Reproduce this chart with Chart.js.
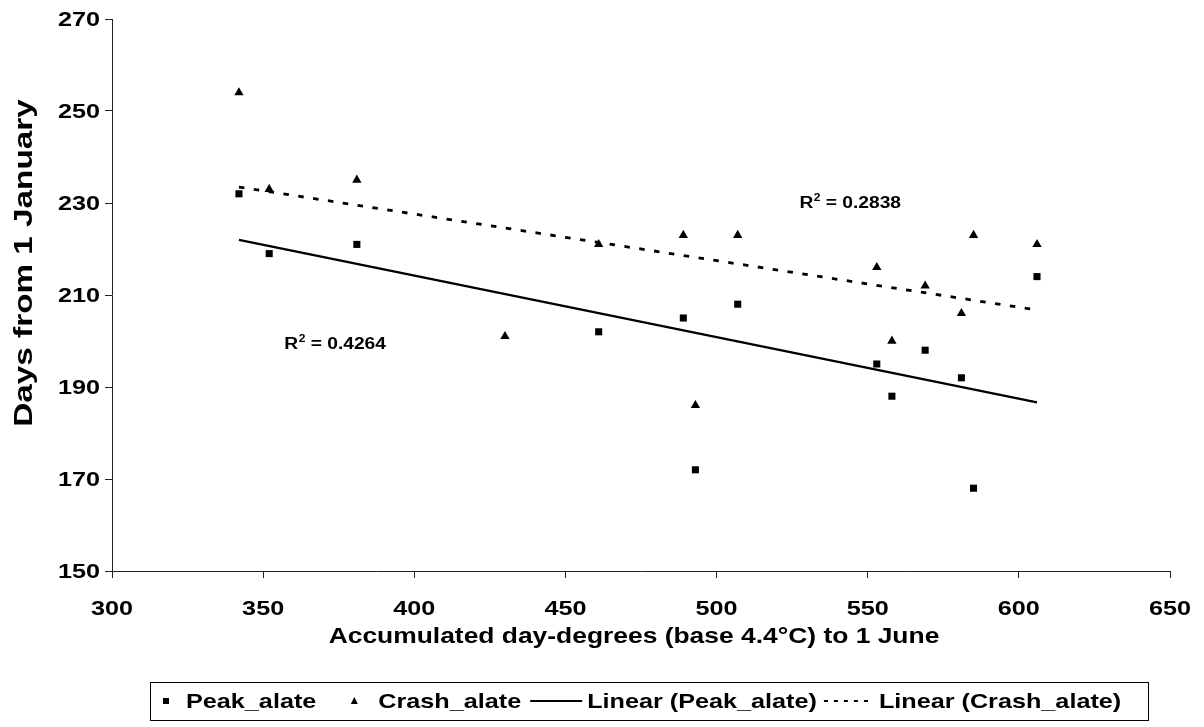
<!DOCTYPE html>
<html>
<head>
<meta charset="utf-8">
<script src="https://cdn.jsdelivr.net/npm/chart.js@4.4.0/dist/chart.umd.min.js"></script>
<style>
  html, body { margin: 0; padding: 0; background: #ffffff; }
  #wrap { width: 1204px; height: 727px; }
</style>
</head>
<body>
<div id="wrap"><canvas id="chart" width="1204" height="727"></canvas></div>
<script>
// Accumulated day-degrees (base 4.4°C) to 1 June, one value per year
const degreeDays = [342, 352, 381, 430, 461, 489, 493, 507, 553, 558, 569, 581, 585, 606];
// Day of year of the alate peak (no record for the 430 year)
const peakAlate = [232, 219, 221, null, 202, 205, 172, 208, 195, 188, 198, 192, 168, 214];
// Day of year of the alate crash
const crashAlate = [254, 233, 235, 201, 221, 223, 186, 223, 216, 200, 212, 206, 223, 221];

const xTickValues = [300, 350, 400, 450, 500, 550, 600, 650];
const yTickValues = [150, 170, 190, 210, 230, 250, 270];

const seriesNames = ['Peak_alate', 'Crash_alate', 'Linear (Peak_alate)', 'Linear (Crash_alate)'];
const axisTitles = ['Accumulated day-degrees (base 4.4°C) to 1 June', 'Days from 1 January'];
const rSquaredText = ['0.4264', '0.2838'];

const FONT = '"Liberation Sans", Arial, Helvetica, sans-serif';
// Text is set slightly wide, as in the exported chart
const WIDE = 1.2;

function pairs(xs, ys) {
  const out = [];
  xs.forEach((x, i) => { if (ys[i] !== null && ys[i] !== undefined) out.push({ x: x, y: ys[i] }); });
  return out;
}

// Ordinary least-squares fit, returned as the two end points of the fitted line
function trendLine(points) {
  const n = points.length;
  const mx = points.reduce((s, p) => s + p.x, 0) / n;
  const my = points.reduce((s, p) => s + p.y, 0) / n;
  let sxy = 0, sxx = 0;
  points.forEach(p => { sxy += (p.x - mx) * (p.y - my); sxx += (p.x - mx) * (p.x - mx); });
  const slope = sxy / sxx;
  const xs = points.map(p => p.x);
  const x0 = Math.min(...xs), x1 = Math.max(...xs);
  return [{ x: x0, y: my + slope * (x0 - mx) }, { x: x1, y: my + slope * (x1 - mx) }];
}

const peakPts = pairs(degreeDays, peakAlate);
const crashPts = pairs(degreeDays, crashAlate);

// Draw a string widened horizontally; returns its drawn width
function wideText(ctx, text, x, y, align, font, sx) {
  ctx.save();
  ctx.font = font;
  const w = ctx.measureText(text).width * sx;
  let left = x;
  if (align === 'center') left = x - w / 2;
  else if (align === 'right') left = x - w;
  ctx.translate(left, y);
  ctx.scale(sx, 1);
  ctx.textAlign = 'left';
  ctx.fillText(text, 0, 0);
  ctx.restore();
  return w;
}

// Tick labels and axis titles
const axisTextPlugin = {
  id: 'axisText',
  afterDraw(chart) {
    const { ctx, chartArea, scales: { x, y } } = chart;
    ctx.save();
    ctx.fillStyle = '#000';
    ctx.textBaseline = 'middle';
    const tickFont = 'bold 21px ' + FONT;
    xTickValues.forEach(v => {
      wideText(ctx, String(v), x.getPixelForValue(v), chartArea.bottom + 38, 'center', tickFont, WIDE);
    });
    yTickValues.forEach(v => {
      wideText(ctx, String(v), chartArea.left - 12, y.getPixelForValue(v) + 1, 'right', tickFont, WIDE);
    });
    // x-axis title
    wideText(ctx, axisTitles[0], 634, 637, 'center', 'bold 22px ' + FONT, WIDE);
    // y-axis title, rotated; widened across its thickness
    ctx.save();
    ctx.font = 'bold 26px ' + FONT;
    ctx.translate(25, 263);
    ctx.rotate(-Math.PI / 2);
    ctx.scale(1.28, 1.0);
    ctx.textAlign = 'center';
    ctx.fillText(axisTitles[1], 0, 0);
    ctx.restore();
    ctx.restore();
  }
};

// R² annotations, anchored in data coordinates
const rSquaredPlugin = {
  id: 'rSquared',
  afterDatasetsDraw(chart) {
    const { ctx, scales: { x, y } } = chart;
    const anchors = [
      { text: rSquaredText[0], x: 357, y: 198.3 },
      { text: rSquaredText[1], x: 527.4, y: 228.9 }
    ];
    ctx.save();
    ctx.fillStyle = '#000';
    ctx.textBaseline = 'alphabetic';
    anchors.forEach(a => {
      let px = x.getPixelForValue(a.x);
      const py = y.getPixelForValue(a.y);
      px += wideText(ctx, 'R', px, py, 'left', 'bold 16px ' + FONT, WIDE);
      px += wideText(ctx, '2', px + 0.5, py - 7, 'left', 'bold 10px ' + FONT, WIDE);
      wideText(ctx, ' = ' + a.text, px + 0.5, py, 'left', 'bold 16px ' + FONT, WIDE);
    });
    ctx.restore();
  }
};

// Boxed legend row under the x-axis title
const boxedLegendPlugin = {
  id: 'boxedLegend',
  afterDraw(chart) {
    const { ctx } = chart;
    const top = 682, height = 38, left = 150, right = 1148;
    const cy = top + height / 2;
    const font = 'bold 21px ' + FONT;
    ctx.save();
    ctx.strokeStyle = '#000';
    ctx.lineWidth = 1;
    ctx.strokeRect(left + 0.5, top + 0.5, right - left, height);
    ctx.fillStyle = '#000';
    ctx.textBaseline = 'middle';

    let cx = 166;
    ctx.fillRect(cx - 3, cy - 3, 6, 6);
    cx = 186;
    cx += wideText(ctx, seriesNames[0], cx, cy + 1, 'left', font, WIDE) + 38;
    ctx.beginPath();
    ctx.moveTo(cx, cy - 4);
    ctx.lineTo(cx + 3.5, cy + 3);
    ctx.lineTo(cx - 3.5, cy + 3);
    ctx.closePath();
    ctx.fill();
    cx += 24;
    cx += wideText(ctx, seriesNames[1], cx, cy + 1, 'left', font, WIDE) + 9;
    ctx.lineWidth = 2;
    ctx.beginPath();
    ctx.moveTo(cx, cy);
    ctx.lineTo(cx + 52, cy);
    ctx.stroke();
    cx += 57;
    cx += wideText(ctx, seriesNames[2], cx, cy + 1, 'left', font, WIDE) + 7;
    ctx.setLineDash([4, 6]);
    ctx.beginPath();
    ctx.moveTo(cx, cy);
    ctx.lineTo(cx + 50, cy);
    ctx.stroke();
    ctx.setLineDash([]);
    cx += 55;
    wideText(ctx, seriesNames[3], cx, cy + 1, 'left', font, WIDE);
    ctx.restore();
  }
};

new Chart(document.getElementById('chart'), {
  type: 'scatter',
  data: {
    datasets: [
      {
        label: seriesNames[0],
        data: peakPts,
        pointStyle: 'rect',
        pointRadius: 5.0,
        pointBackgroundColor: '#000',
        pointBorderColor: '#000',
        pointBorderWidth: 0,
        showLine: false
      },
      {
        label: seriesNames[1],
        data: crashPts,
        pointStyle: 'triangle',
        pointRadius: 5.4,
        pointBackgroundColor: '#000',
        pointBorderColor: '#000',
        pointBorderWidth: 0,
        showLine: false
      },
      {
        label: seriesNames[2],
        data: trendLine(peakPts),
        showLine: true,
        borderColor: '#000',
        borderWidth: 2.2,
        pointRadius: 0,
        fill: false
      },
      {
        label: seriesNames[3],
        data: trendLine(crashPts),
        showLine: true,
        borderColor: '#000',
        borderWidth: 2.8,
        borderDash: [5.5, 9.5],
        pointRadius: 0,
        fill: false
      }
    ]
  },
  options: {
    responsive: false,
    animation: false,
    devicePixelRatio: 1,
    layout: { padding: { top: 19, right: 34, left: 0, bottom: 0 } },
    plugins: {
      legend: { display: false },
      tooltip: { enabled: false }
    },
    scales: {
      x: {
        type: 'linear',
        min: 300,
        max: 650,
        afterBuildTicks(scale) { scale.ticks = xTickValues.map(v => ({ value: v })); },
        afterFit(scale) { scale.height = 156; },
        ticks: { display: false },
        grid: { drawOnChartArea: false, tickLength: 7, color: '#222' },
        border: { color: '#222', width: 1 },
        title: { display: false }
      },
      y: {
        type: 'linear',
        min: 150,
        max: 270,
        afterBuildTicks(scale) { scale.ticks = yTickValues.map(v => ({ value: v })); },
        afterFit(scale) { scale.width = 112; },
        ticks: { display: false },
        grid: { drawOnChartArea: false, tickLength: 7, color: '#222' },
        border: { color: '#222', width: 1 },
        title: { display: false }
      }
    }
  },
  plugins: [rSquaredPlugin, axisTextPlugin, boxedLegendPlugin]
});
</script>
</body>
</html>
